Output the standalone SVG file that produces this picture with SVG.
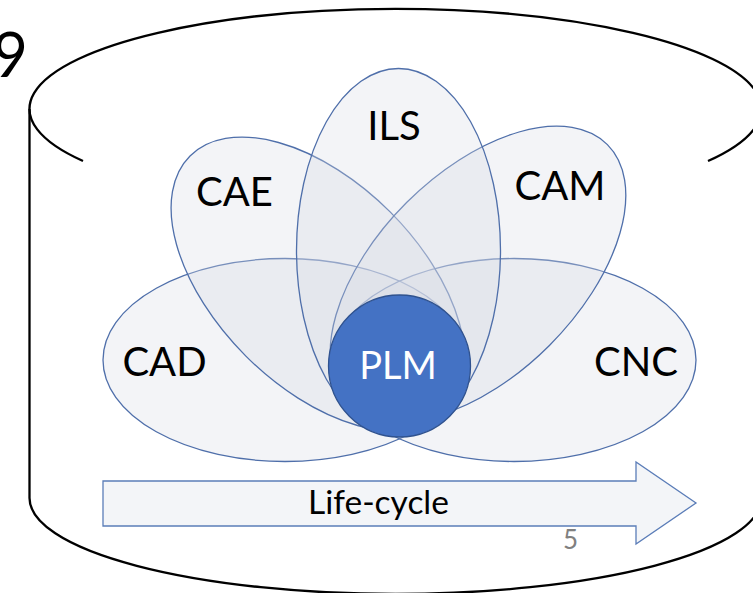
<svg xmlns="http://www.w3.org/2000/svg" width="753" height="593" viewBox="0 0 753 593">
<style>
.cyl{fill:none;stroke:#000;stroke-width:2.3}
.pet{fill:#D6DCE5;fill-opacity:0.3;stroke:#4F6FAA;stroke-width:1.3}
.lbl{font-family:Lato,"Liberation Sans",sans-serif;font-size:40px;fill:#000;text-anchor:middle}
</style>
<rect width="753" height="593" fill="#fff"/>
<text x="28" y="77" style="font-family:Lato,'Liberation Sans',sans-serif;font-size:61px;fill:#000;text-anchor:end">9</text>
<g id="cylinder">
<path class="cyl" d="M83,161 A366,100 0 1 1 708,161"/>
<path class="cyl" d="M29.5,109 L29.5,498 A366,96 0 0 0 761.5,498 L761.5,109"/>
</g>
<g id="CAD"><ellipse class="pet" cx="285" cy="360" rx="182" ry="101.5"/></g>
<g id="CNC"><ellipse class="pet" cx="514" cy="360" rx="182" ry="101.5"/></g>
<g id="CAE"><ellipse class="pet" cx="318" cy="284" rx="181" ry="102" transform="rotate(45 318 284)"/></g>
<g id="CAM"><ellipse class="pet" cx="478" cy="274" rx="183" ry="101" transform="rotate(-45 478 274)"/></g>
<g id="ILS"><ellipse class="pet" cx="398.5" cy="250.5" rx="102" ry="182"/></g>
<g id="PLM"><circle cx="399.5" cy="366" r="71" fill="#4472C4" stroke="#2F528F" stroke-width="1.3"/></g>
<g id="labels">
<text class="lbl" x="164.5" y="376">CAD</text>
<text class="lbl" x="636" y="376">CNC</text>
<text class="lbl" x="234.5" y="206">CAE</text>
<text class="lbl" x="560" y="200">CAM</text>
<text class="lbl" x="394" y="140">ILS</text>
<text class="lbl" x="398" y="379" style="fill:#fff;font-size:38px">PLM</text>
</g>
<g id="lifecycle">
<polygon points="103,481 636,481 636,462 696,503 636,544 636,526 103,526" fill="#F3F5F8" stroke="#5B7DB8" stroke-width="1.3"/>
<text class="lbl" x="378.5" y="514" style="font-size:33.5px">Life-cycle</text>
</g>
<text x="570.5" y="549" style="font-family:Lato,'Liberation Sans',sans-serif;font-size:26px;fill:#808080;text-anchor:middle">5</text>
</svg>
